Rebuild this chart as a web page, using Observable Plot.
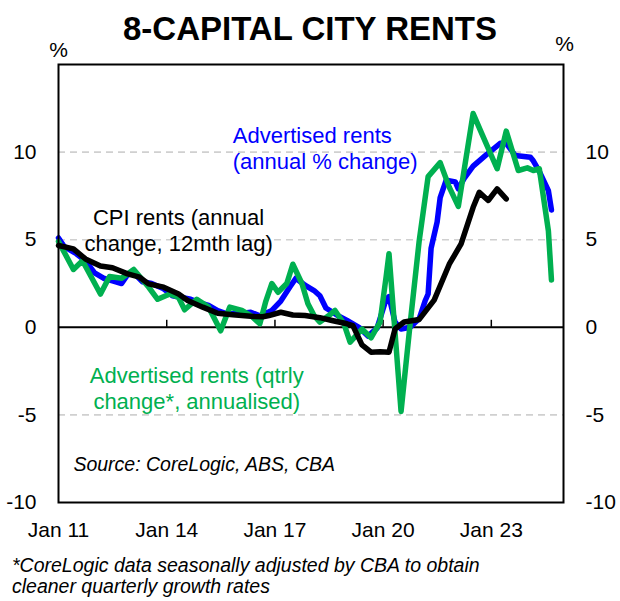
<!DOCTYPE html>
<html><head><meta charset="utf-8">
<script src="https://cdn.jsdelivr.net/npm/d3@7"></script>
<script src="https://cdn.jsdelivr.net/npm/@observablehq/plot@0.6"></script>
<style>
body{margin:0;background:#fff;font-family:"Liberation Sans",Arial,sans-serif;}
#wrap{width:620px;height:601px;overflow:hidden;}
#title{height:36px;box-sizing:border-box;padding-top:12px;font-weight:bold;font-size:33px;line-height:33px;text-align:center;color:#000;}
#note{padding:5px 0 0 12px;font-style:italic;font-size:19.5px;line-height:21px;color:#000;}
</style></head><body>
<div id="wrap">
<div id="title">8-CAPITAL CITY RENTS</div>
<div id="chart"></div>
<div id="note">*CoreLogic data seasonally adjusted by CBA to obtain<br>cleaner quarterly growth rates</div>
</div>
<script>
// Advertised rents, annual % change (blue)
const advDates = ["2011-01","2011-03","2011-07","2011-10","2012-01","2012-04","2012-07","2012-10","2012-12","2013-02","2013-05","2013-08","2013-12","2014-03","2014-06","2014-09","2014-12","2015-03","2015-06","2015-09","2016-01","2016-05","2016-08","2016-12","2017-03","2017-06","2017-08","2017-11","2018-02","2018-04","2018-06","2018-10","2019-01","2019-05","2019-08","2019-11","2020-02","2020-03","2020-05","2020-07","2020-10","2021-01","2021-03","2021-04","2021-05","2021-07","2021-08","2021-10","2022-01","2022-02","2022-04","2022-07","2022-11","2023-04","2023-06","2023-09","2024-02","2024-03","2024-05","2024-08","2024-09"];
const advAnnual = [5.1,4.6,4.2,3.8,3.1,2.8,2.65,2.5,3.0,3.1,2.6,2.5,2.2,1.8,1.7,1.6,1.4,1.25,0.95,0.77,0.77,0.86,0.65,0.96,1.5,2.3,2.8,2.4,2.1,1.8,1.1,0.67,0.39,0.0,-0.5,-0.05,1.6,1.75,0.3,-0.1,0.0,0.5,1.5,1.9,4.5,6.0,7.4,8.4,8.3,7.9,8.5,9.2,9.8,10.5,10.5,9.8,9.7,9.5,8.9,7.8,6.7];

// Advertised rents, quarterly change annualised (green)
const qtrDates = ["2011-01","2011-06","2011-09","2012-03","2012-06","2012-10","2013-02","2013-07","2013-10","2014-02","2014-05","2014-07","2014-11","2015-03","2015-07","2015-10","2016-02","2016-05","2016-08","2016-10","2016-12","2017-02","2017-05","2017-07","2017-10","2017-12","2018-02","2018-04","2018-07","2018-09","2018-12","2019-02","2019-06","2019-09","2019-12","2020-02","2020-03","2020-07","2020-10","2021-01","2021-04","2021-06","2021-08","2021-11","2022-02","2022-07","2022-10","2023-03","2023-06","2023-10","2024-01","2024-03","2024-05","2024-08","2024-09"];
const advQtrAnn = [4.9,3.3,3.8,1.9,2.9,2.8,3.3,2.3,1.6,1.9,1.7,1.0,1.6,1.15,-0.2,1.15,0.96,0.67,0.2,1.5,2.5,2.0,2.5,3.6,2.5,1.34,0.67,0.3,0.67,0.96,0.2,-0.85,-0.1,-0.6,0.3,2.9,4.2,-4.8,0.2,4.95,8.6,9.0,9.4,8.0,6.9,12.2,11.0,9.05,11.2,8.95,9.1,8.95,9.05,5.5,2.7];

// CPI rents, annual change, 12mth lag (black)
const cpiDates = ["2011-01","2011-06","2011-10","2012-03","2012-07","2012-12","2013-04","2013-07","2013-12","2014-05","2014-08","2015-01","2015-06","2015-11","2016-06","2016-09","2016-11","2017-03","2017-07","2017-11","2018-04","2018-08","2019-01","2019-03","2019-06","2019-09","2019-12","2020-03","2020-05","2020-08","2021-01","2021-06","2021-11","2022-03","2022-07","2022-09","2022-12","2023-03","2023-06"];
const cpiRents = [4.67,4.48,3.9,3.5,3.4,3.05,2.86,2.48,2.29,1.9,1.53,1.15,0.8,0.72,0.62,0.6,0.67,0.86,0.7,0.67,0.55,0.39,0.2,0.1,-1.0,-1.42,-1.4,-1.42,-0.1,0.3,0.45,1.55,3.6,4.76,6.85,7.7,7.24,7.9,7.33];

// Axes
const xTickDates = ["2011-01","2014-01","2017-01","2020-01","2023-01"];
const xTickLabels = ["Jan 11","Jan 14","Jan 17","Jan 20","Jan 23"];
const yTicks = [-10,-5,0,5,10];
const yGrid = [-5,5,10];

// Annotations (anchored in data coordinates)
const annoText = ["Advertised rents\n(annual % change)","CPI rents (annual\nchange, 12mth lag)","Advertised rents (qtrly\nchange*, annualised)","Source: CoreLogic, ABS, CBA"];
const annoDates = ["2015-11","2014-05","2014-11","2011-06"];
const annoValues = [11.52,6.84,-2.18,-7.32];

const parse = d3.utcParse("%Y-%m");
const series = (dates, vals) => dates.map((d, i) => ({date: parse(d), value: vals[i]}));
const tickDates = xTickDates.map(parse);

const BLUE = "#0000ff", GREEN = "#00b050", BLACK = "#000000";
const annoStyle = [
  {fill: BLUE, textAnchor: "start", fontSize: 22},
  {fill: BLACK, textAnchor: "middle", fontSize: 22},
  {fill: GREEN, textAnchor: "middle", fontSize: 22},
  {fill: BLACK, textAnchor: "start", fontSize: 19.5, fontStyle: "italic"}
];

const chart = Plot.plot({
  width: 620,
  height: 514,
  marginTop: 28,
  marginBottom: 48,
  marginLeft: 58,
  marginRight: 57,
  style: {fontFamily: '"Liberation Sans", Arial, sans-serif', fontSize: "21px", background: "transparent", overflow: "visible", color: "black"},
  x: {type: "utc", domain: [parse("2011-01"), parse("2025-01")]},
  y: {domain: [-10, 15]},
  marks: [
    Plot.ruleY(yGrid, {stroke: "#d0d0d0", strokeWidth: 1.6, strokeDasharray: "7,5"}),
    Plot.ruleY([0], {stroke: BLACK, strokeWidth: 2}),
    Plot.ruleX(tickDates.slice(1), {y1: 0, y2: 0.4, stroke: BLACK, strokeWidth: 1.5}),
    Plot.axisX({anchor: "bottom", ticks: tickDates, tickSize: 0, tickPadding: 20, fontSize: 21, label: null,
      tickFormat: d => xTickLabels[tickDates.findIndex(t => +t === +d)]}),
    Plot.axisY({anchor: "left", ticks: yTicks, tickSize: 0, tickPadding: 22, fontSize: 21, label: null, tickFormat: d => String(d)}),
    Plot.axisY({anchor: "right", ticks: yTicks, tickSize: 0, tickPadding: 22, fontSize: 21, label: null, tickFormat: d => String(d)}),
    Plot.line(series(advDates, advAnnual), {x: "date", y: "value", stroke: BLUE, strokeWidth: 5.5, strokeLinejoin: "round", strokeLinecap: "round"}),
    Plot.line(series(qtrDates, advQtrAnn), {x: "date", y: "value", stroke: GREEN, strokeWidth: 5.5, strokeLinejoin: "round", strokeLinecap: "round"}),
    Plot.line(series(cpiDates, cpiRents), {x: "date", y: "value", stroke: BLACK, strokeWidth: 5.5, strokeLinejoin: "round", strokeLinecap: "round"}),
    ...annoText.map((t, i) => Plot.text([t], {x: () => parse(annoDates[i]), y: () => annoValues[i], text: d => d, lineAnchor: "top", lineHeight: 1.15, ...annoStyle[i]})),
    Plot.text(["%"], {frameAnchor: "top-left", textAnchor: "middle", lineAnchor: "middle", dy: -14, fontSize: 21}),
    Plot.text(["%"], {frameAnchor: "top-right", textAnchor: "middle", lineAnchor: "middle", dx: 1, dy: -20.5, fontSize: 21}),
    Plot.frame({stroke: BLACK, strokeWidth: 2})
  ]
});
document.getElementById("chart").appendChild(chart);
</script>
</body></html>
